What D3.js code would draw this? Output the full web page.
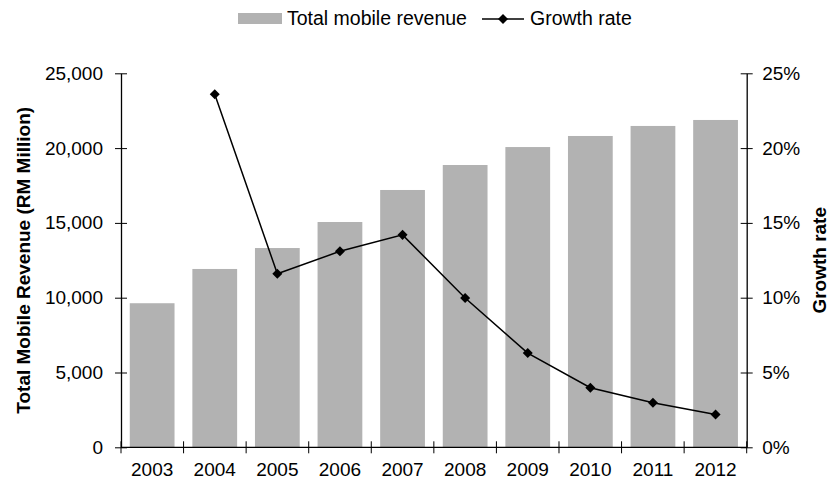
<!DOCTYPE html>
<html>
<head>
<meta charset="utf-8">
<script src="https://cdn.jsdelivr.net/npm/d3@7"></script>
<style>
  html, body { margin: 0; padding: 0; background: #fff; }
  svg { display: block; font-family: "Liberation Sans", Arial, sans-serif; }
</style>
</head>
<body>
<svg id="chart" width="830" height="485"></svg>
<script>
// Malaysian mobile revenue and its yearly growth
const years = ["2003", "2004", "2005", "2006", "2007", "2008", "2009", "2010", "2011", "2012"];
const revenue = [9630, 11920, 13320, 15060, 17200, 18870, 20070, 20810, 21480, 21880];
const growth = [null, 0.236, 0.116, 0.131, 0.142, 0.0998, 0.063, 0.0398, 0.0298, 0.022];
const revenueTicks = [0, 5000, 10000, 15000, 20000, 25000];
const growthTicks = [0, 0.05, 0.10, 0.15, 0.20, 0.25];

const svg = d3.select("#chart");
const plotL = 121, plotR = 746.7, plotT = 73.3, plotB = 447.3;
const fontSize = 19;

const x = d3.scaleBand().domain(years).range([plotL, plotR]).paddingInner(0.285).paddingOuter(0.14);
const yRev = d3.scaleLinear().domain([0, 25000]).range([plotB, plotT]);
const yGr = d3.scaleLinear().domain([0, 0.25]).range([plotB, plotT]);

// bars
svg.append("g").selectAll("rect")
  .data(years.map((yr, i) => ({ yr, v: revenue[i] })))
  .join("rect")
  .attr("x", d => x(d.yr))
  .attr("width", x.bandwidth())
  .attr("y", d => yRev(d.v))
  .attr("height", d => yRev(0) - yRev(d.v))
  .attr("fill", "#b2b2b2");

// left axis
const axL = svg.append("g").attr("transform", `translate(${plotL},0)`)
  .call(d3.axisLeft(yRev).tickValues(revenueTicks).tickFormat(d3.format(",")).tickSize(6).tickSizeOuter(0).tickPadding(12));
axL.selectAll(".tick line").attr("x2", -6).attr("x1", 6);
// right axis
const axR = svg.append("g").attr("transform", `translate(${plotR},0)`)
  .call(d3.axisRight(yGr).tickValues(growthTicks).tickFormat(d3.format(".0%")).tickSize(6).tickSizeOuter(0).tickPadding(9.5));
axR.selectAll(".tick line").attr("x1", -6).attr("x2", 6);
// bottom axis with ticks on category boundaries
const axB = svg.append("g").attr("transform", `translate(0,${plotB})`);
axB.append("line").attr("x1", plotL).attr("x2", plotR).attr("stroke", "#000").attr("stroke-width", 1.3);
axB.selectAll("line.tk").data(d3.range(years.length + 1)).join("line")
  .attr("class", "tk")
  .attr("x1", i => plotL + i * (plotR - plotL) / years.length)
  .attr("x2", i => plotL + i * (plotR - plotL) / years.length)
  .attr("y1", -6).attr("y2", 6).attr("stroke", "#000");
axB.selectAll("text").data(years).join("text")
  .attr("x", d => x(d) + x.bandwidth() / 2)
  .attr("y", 29)
  .attr("text-anchor", "middle")
  .attr("font-size", fontSize)
  .text(d => d);

[axL, axR].forEach(g => {
  g.select(".domain").attr("stroke-width", 1.3);
  g.selectAll("text").attr("font-size", fontSize).attr("font-family", "Liberation Sans, Arial, sans-serif").attr("fill", "#000");
});

// growth line
const pts = years.map((yr, i) => ({ yr, v: growth[i] })).filter(d => d.v != null);
svg.append("path")
  .datum(pts)
  .attr("fill", "none").attr("stroke", "#000").attr("stroke-width", 1.5)
  .attr("d", d3.line().x(d => x(d.yr) + x.bandwidth() / 2).y(d => yGr(d.v)));
svg.append("g").selectAll("path")
  .data(pts).join("path")
  .attr("transform", d => `translate(${x(d.yr) + x.bandwidth() / 2},${yGr(d.v)})`)
  .attr("d", d3.symbol(d3.symbolDiamond2, 64))
  .attr("fill", "#000");

// axis titles
svg.append("text")
  .attr("transform", `translate(30,${(plotT + plotB) / 2}) rotate(-90)`)
  .attr("text-anchor", "middle").attr("font-weight", "bold").attr("font-size", 19)
  .text("Total Mobile Revenue (RM Million)");
svg.append("text")
  .attr("transform", `translate(826,${(plotT + plotB) / 2}) rotate(-90)`)
  .attr("text-anchor", "middle").attr("font-weight", "bold").attr("font-size", 19)
  .text("Growth rate");

// legend
const lg = svg.append("g");
lg.append("rect").attr("x", 238).attr("y", 13).attr("width", 44).attr("height", 11).attr("fill", "#b2b2b2");
lg.append("text").attr("x", 287).attr("y", 25).attr("font-size", 19.5).text("Total mobile revenue");
lg.append("line").attr("x1", 482).attr("x2", 524).attr("y1", 19).attr("y2", 19).attr("stroke", "#000").attr("stroke-width", 1.5);
lg.append("path").attr("transform", "translate(503,19)").attr("d", d3.symbol(d3.symbolDiamond2, 64)).attr("fill", "#000");
lg.append("text").attr("x", 530).attr("y", 25).attr("font-size", 19.5).text("Growth rate");
</script>
</body>
</html>
